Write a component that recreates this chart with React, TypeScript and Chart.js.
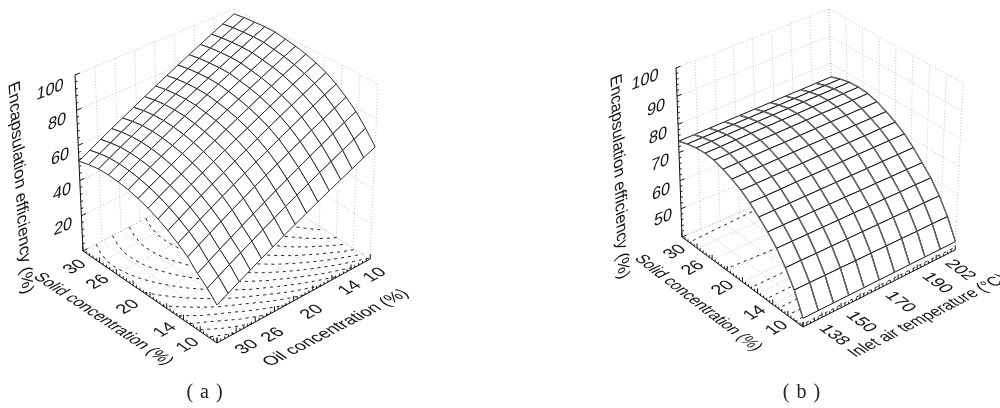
import React, { useEffect, useRef } from "react";
import { Chart, registerables } from "chart.js";

Chart.register(...registerables);

// ---------- data ----------
const encapsulationTitle = "Encapsulation efficiency (%)";
const solidTitle = "Solid concentration (%)";
const oilTitle = "Oil concentration (%)";
const temperatureTitle = "Inlet air temperature (°C)";
const solidTicks = ["30", "26", "20", "14", "10"];
const oilTicks = ["30", "26", "20", "14", "10"];
const temperatureTicks = ["138", "150", "170", "190", "202"];
const efficiencyTicksA = ["100", "80", "60", "40", "20"];
const efficiencyTicksB = ["100", "90", "80", "70", "60", "50"];
const gridZA = [0, 20, 40, 60, 80, 100];
const gridZB = [40, 50, 60, 70, 80, 90, 100];

// rows: solid 30 -> 10, columns: oil 30 -> 10
const surfaceA = [
  [51, 54.3, 57.6, 60.9, 64.1, 67.4, 70.7, 74, 77.3, 80.6, 83.9, 87.1, 90.4, 93.7, 97],
  [52.5, 55.8, 59, 62.3, 65.5, 68.8, 72, 75.3, 78.5, 81.8, 85, 88.3, 91.5, 94.8, 98],
  [53.5, 56.7, 59.9, 63.1, 66.4, 69.6, 72.8, 76, 79.2, 82.4, 85.6, 88.9, 92.1, 95.3, 98.5],
  [53.5, 56.8, 60, 63.3, 66.5, 69.8, 73, 76.3, 79.5, 82.8, 86, 89.3, 92.5, 95.8, 99],
  [53, 56.3, 59.6, 62.9, 66.1, 69.4, 72.7, 76, 79.3, 82.6, 85.9, 89.1, 92.4, 95.7, 99],
  [52, 55.3, 58.6, 61.9, 65.1, 68.4, 71.7, 75, 78.3, 81.6, 84.9, 88.1, 91.4, 94.7, 98],
  [50.5, 53.8, 57.1, 60.5, 63.8, 67.1, 70.4, 73.8, 77.1, 80.4, 83.7, 87, 90.4, 93.7, 97],
  [48.5, 51.9, 55.2, 58.6, 61.9, 65.3, 68.6, 72, 75.4, 78.7, 82.1, 85.4, 88.8, 92.1, 95.5],
  [46, 49.4, 52.8, 56.2, 59.6, 63, 66.4, 69.8, 73.1, 76.5, 79.9, 83.3, 86.7, 90.1, 93.5],
  [43, 46.4, 49.9, 53.3, 56.7, 60.1, 63.6, 67, 70.4, 73.9, 77.3, 80.7, 84.1, 87.6, 91],
  [39.5, 42.9, 46.4, 49.8, 53.2, 56.6, 60.1, 63.5, 66.9, 70.4, 73.8, 77.2, 80.6, 84.1, 87.5],
  [35.5, 38.9, 42.3, 45.7, 49.1, 52.5, 55.9, 59.3, 62.6, 66, 69.4, 72.8, 76.2, 79.6, 83],
  [30, 33.4, 36.9, 40.3, 43.7, 47.1, 50.6, 54, 57.4, 60.9, 64.3, 67.7, 71.1, 74.6, 78],
  [25.5, 28.8, 32.1, 35.4, 38.6, 41.9, 45.2, 48.5, 51.8, 55.1, 58.4, 61.6, 64.9, 68.2, 71.5],
  [20, 23.1, 26.3, 29.4, 32.6, 35.7, 38.9, 42, 45.1, 48.3, 51.4, 54.6, 57.7, 60.9, 64],
];

// rows: solid 30 -> 10, columns: temperature 138 -> 202
const surfaceB = [
  [74, 74.1, 74.2, 74.3, 74.4, 74.5, 74.6, 74.7, 74.8, 74.9, 75],
  [75.2, 75.3, 75.4, 75.5, 75.6, 75.7, 75.8, 75.9, 76, 76.1, 76.2],
  [76, 76.1, 76.2, 76.3, 76.4, 76.5, 76.6, 76.7, 76.8, 76.9, 77],
  [76.3, 76.4, 76.5, 76.6, 76.7, 76.8, 76.8, 76.9, 77, 77.1, 77.2],
  [76, 76.1, 76.2, 76.3, 76.3, 76.4, 76.5, 76.6, 76.6, 76.7, 76.8],
  [75, 75.1, 75.2, 75.3, 75.3, 75.4, 75.5, 75.6, 75.6, 75.7, 75.8],
  [73.7, 73.8, 73.8, 73.9, 73.9, 74, 74, 74, 74.1, 74.1, 74.2],
  [72, 72, 72.1, 72.1, 72.1, 72.2, 72.2, 72.2, 72.2, 72.3, 72.3],
  [69.8, 69.8, 69.8, 69.9, 69.9, 69.9, 69.9, 70, 70, 70, 70],
  [67, 67, 67, 67, 67, 67, 67, 67, 67, 67, 67],
  [64, 64, 63.9, 63.9, 63.8, 63.8, 63.7, 63.7, 63.6, 63.6, 63.5],
  [60.5, 60.5, 60.4, 60.4, 60.3, 60.3, 60.2, 60.2, 60.1, 60.1, 60],
  [56, 56, 55.9, 55.9, 55.8, 55.8, 55.7, 55.7, 55.6, 55.6, 55.5],
  [50.5, 50.5, 50.4, 50.4, 50.3, 50.3, 50.2, 50.2, 50.1, 50.1, 50],
  [43, 43, 43, 43, 43, 43, 43, 43, 43, 43, 43],
];

// ---------- layout ----------
type V2 = [number, number];
type Corner = { b: V2; t: V2 };
type Place = { x: number; y: number };
type Label = { text: string; at: V2; dir: V2; down: V2; size: number; len?: number };

const TICK_SIZE = 17.5;
const TITLE_SIZE = 17.5;
const tickText = (text: string, at: V2, dir: V2, down: V2): Label => ({ text, at, dir, down, size: TICK_SIZE });

const buildLabelsA = (): Label[] => {
  const z: V2[] = [[50, 90], [57, 122], [60, 157], [62, 192], [63, 227]];
  const s: V2[] = [[75, 267], [98, 282], [128, 307], [165, 330], [188, 345]];
  const o: V2[] = [[247, 347], [273, 335], [312, 312], [350, 288], [375, 275]];
  return [
    ...efficiencyTicksA.map((t, i) => tickText(t, z[i], [0.93, -0.37], [-0.1, 1])),
    ...solidTicks.map((t, i) => tickText(t, s[i], [0.87, -0.48], [0.82, 0.57])),
    ...oilTicks.map((t, i) => tickText(t, o[i], [0.87, -0.48], [0.82, 0.57])),
    { text: encapsulationTitle, at: [20, 188], dir: [0.066, 1], down: [-0.92, 0.38], size: TITLE_SIZE, len: 211 },
    { text: solidTitle, at: [103, 319], dir: [0.83, 0.55], down: [-0.87, 0.48], size: TITLE_SIZE, len: 160 },
    { text: oilTitle, at: [336, 328], dir: [0.89, -0.46], down: [0.82, 0.57], size: TITLE_SIZE, len: 157 },
  ];
};

const buildLabelsB = (): Label[] => {
  const z: V2[] = [[645, 80], [656, 108], [658, 136], [660, 163], [661, 192], [663, 218]];
  const s: V2[] = [[675, 252], [693, 268], [723, 288], [755, 313], [777, 328]];
  const t: V2[] = [[834, 335], [861, 322], [900, 302], [937, 283], [960, 270]];
  return [
    ...efficiencyTicksB.map((v, i) => tickText(v, z[i], [0.93, -0.37], [-0.1, 1])),
    ...solidTicks.map((v, i) => tickText(v, s[i], [0.87, -0.48], [0.8, 0.6])),
    ...temperatureTicks.map((v, i) => tickText(v, t[i], [0.8, 0.6], [-0.87, 0.45])),
    { text: encapsulationTitle, at: [619, 177], dir: [0.04, 1], down: [-0.92, 0.38], size: TITLE_SIZE, len: 203 },
    { text: solidTitle, at: [698, 303], dir: [0.79, 0.61], down: [-0.89, 0.45], size: TITLE_SIZE, len: 152 },
    { text: temperatureTitle, at: [928, 316], dir: [0.89, -0.45], down: [0.8, 0.6], size: TITLE_SIZE, len: 172 },
  ];
};

const PANEL_A = {
  offset: 0,
  corners: {
    L: { b: [83, 251], t: [75, 75] },
    B: { b: [235, 172], t: [234, 9] },
    F: { b: [217, 343], t: [217, 153] },
    R: { b: [370, 259], t: [378, 84] },
  } as Record<string, Corner>,
  zMin: 0,
  zMax: 100,
  surface: surfaceA,
  gridZ: gridZA,
  levels: [25, 30, 35, 40, 45, 50, 55, 60, 65, 70, 75, 80, 85, 90, 95],
  zDivs: 25,
  heavyRuns: false,
  labels: buildLabelsA(),
  caption: { text: "( a )", x: 205, y: 393 },
};

const PANEL_B = {
  offset: 500,
  corners: {
    L: { b: [682, 237], t: [676, 68] },
    B: { b: [834, 172], t: [829, 9] },
    F: { b: [803, 327], t: [803, 152] },
    R: { b: [955, 250], t: [963, 83] },
  } as Record<string, Corner>,
  zMin: 40,
  zMax: 100,
  surface: surfaceB,
  gridZ: gridZB,
  levels: [45, 50, 55, 60, 65, 70, 75],
  zDivs: 30,
  heavyRuns: true,
  labels: buildLabelsB(),
  caption: { text: "( b )", x: 802, y: 393 },
};

type Panel = typeof PANEL_A;

const lerp = (a: number, b: number, t: number) => a + (b - a) * t;

function project(p: Panel, u: number, v: number, w: number): Place {
  const { L, B, F, R } = p.corners;
  const at = (k: 0 | 1) => {
    const bottom = lerp(lerp(L.b[k], B.b[k], u), lerp(F.b[k], R.b[k], u), v);
    const top = lerp(lerp(L.t[k], B.t[k], u), lerp(F.t[k], R.t[k], u), v);
    return lerp(bottom, top, w);
  };
  return { x: at(0), y: at(1) };
}

const GAP: Place = { x: NaN, y: NaN };

function segments(p: Panel, list: number[][][]): Place[] {
  const out: Place[] = [];
  list.forEach((s) => {
    s.forEach(([u, v, w]) => out.push(project(p, u, v, w)));
    out.push(GAP);
  });
  return out;
}

function contourSegments(p: Panel, level: number): number[][][] {
  const z = p.surface;
  const segs: number[][][] = [];
  const ni = z.length - 1;
  const nj = z[0].length - 1;
  for (let i = 0; i < ni; i++) {
    for (let j = 0; j < nj; j++) {
      const c: [number, number, number][] = [
        [i, j, z[i][j]],
        [i, j + 1, z[i][j + 1]],
        [i + 1, j + 1, z[i + 1][j + 1]],
        [i + 1, j, z[i + 1][j]],
      ];
      const pts: number[][] = [];
      for (let e = 0; e < 4; e++) {
        const a = c[e];
        const b = c[(e + 1) % 4];
        if (a[2] < level !== b[2] < level) {
          const t = (level - a[2]) / (b[2] - a[2]);
          pts.push([lerp(a[1], b[1], t) / nj, lerp(a[0], b[0], t) / ni, 0]);
        }
      }
      if (pts.length >= 2) segs.push([pts[0], pts[1]]);
      if (pts.length === 4) segs.push([pts[2], pts[3]]);
    }
  }
  return segs;
}

// joins the pieces of a contour end to end, so that its dashes run on unbroken
function chain(segs: number[][][]): number[][][] {
  const same = (a: number[], b: number[]) => Math.abs(a[0] - b[0]) < 1e-6 && Math.abs(a[1] - b[1]) < 1e-6;
  const left = segs.slice();
  const out: number[][][] = [];
  while (left.length) {
    const run = left.shift() as number[][];
    let grown = true;
    while (grown) {
      grown = false;
      for (let k = 0; k < left.length; k++) {
        const s = left[k];
        const tail = run[run.length - 1];
        const head = run[0];
        if (same(tail, s[0])) run.push(s[1]);
        else if (same(tail, s[1])) run.push(s[0]);
        else if (same(head, s[0])) run.unshift(s[1]);
        else if (same(head, s[1])) run.unshift(s[0]);
        else continue;
        left.splice(k, 1);
        grown = true;
        break;
      }
    }
    out.push(run);
  }
  return out;
}

function buildDatasets(p: Panel) {
  const back: any[] = [];
  const span = p.zMax - p.zMin;
  const DIV = [0, 0.125, 0.25, 0.375, 0.5, 0.625, 0.75, 0.875, 1];
  const line = (data: Place[], color: string, width: number, dash: number[] = []) => ({
    data,
    showLine: true,
    pointRadius: 0,
    borderColor: color,
    borderWidth: width,
    borderDash: dash,
    fill: false,
    tension: 0,
    spanGaps: false,
  });

  // walls and floor grid
  const grid: number[][][] = [];
  DIV.forEach((d) => {
    grid.push([[d, 0, 0], [d, 0, 1]]);
    grid.push([[1, d, 0], [1, d, 1]]);
    grid.push([[d, 0, 0], [d, 1, 0]]);
    grid.push([[0, d, 0], [1, d, 0]]);
  });
  p.gridZ.forEach((g) => {
    const w = (g - p.zMin) / span;
    grid.push([[0, 0, w], [1, 0, w], [1, 1, w]]);
  });
  back.push(line(segments(p, grid), "#c4c4c4", 1, [1, 2]));

  // contours on the floor
  p.levels.forEach((lv) => {
    back.push(line(segments(p, chain(contourSegments(p, lv))), "#222222", 1, [3, 4]));
  });

  // axes with their tick marks
  const axes: number[][][] = [
    [[0, 0, 0], [0, 1, 0], [1, 1, 0]],
    [[0, 0, 0], [0, 0, 1]],
  ];
  for (let k = 0; k <= 40; k++) {
    const h = k % 5 === 0 ? 0.028 : 0.013;
    axes.push([[0, k / 40, 0], [0, k / 40, h]]);
    axes.push([[k / 40, 1, 0], [k / 40, 1, h]]);
  }
  for (let k = 0; k <= p.zDivs; k++) {
    const l = k % 5 === 0 ? 0.03 : 0.014;
    axes.push([[0, 0, k / p.zDivs], [l, 0, k / p.zDivs]]);
  }
  back.push(line(segments(p, axes), "#111111", 1));

  // surface cells, far to near
  const z = p.surface;
  const ni = z.length - 1;
  const nj = z[0].length - 1;
  const W = (v: number) => (v - p.zMin) / span;
  for (let i = 0; i < ni; i++) {
    for (let j = nj - 1; j >= 0; j--) {
      const a = project(p, j / nj, i / ni, W(z[i][j]));
      const b = project(p, (j + 1) / nj, i / ni, W(z[i][j + 1]));
      const c = project(p, (j + 1) / nj, (i + 1) / ni, W(z[i + 1][j + 1]));
      const d = project(p, j / nj, (i + 1) / ni, W(z[i + 1][j]));
      back.push({
        ...line([a, b, c, d, a], p.heavyRuns ? "#111111" : "#2c2c2c", 1),
        fill: "shape",
        backgroundColor: "#ffffff",
      });
      if (p.heavyRuns) {
        back.push(line([a, d, GAP, b, c], "#666666", 1.4));
      }
    }
  }
  return back.map((d, idx) => ({ ...d, order: back.length - idx }));
}

function SurfacePanel({ panel }: { panel: Panel }) {
  const ref = useRef<HTMLCanvasElement | null>(null);
  useEffect(() => {
    if (!ref.current) return;
    const textPlugin = {
      id: "surfaceText",
      afterDraw(chart: any) {
        const { ctx } = chart;
        const sx = chart.scales.x;
        const sy = chart.scales.y;
        ctx.save();
        ctx.fillStyle = "#111111";
        ctx.textAlign = "center";
        ctx.textBaseline = "middle";
        panel.labels.forEach((l) => {
          ctx.save();
          ctx.font = `${l.size}px "Liberation Sans", Arial, sans-serif`;
          const scale = l.len ? l.len / ctx.measureText(l.text).width : 1;
          ctx.transform(
            l.dir[0] * scale,
            l.dir[1] * scale,
            l.down[0],
            l.down[1],
            sx.getPixelForValue(l.at[0]),
            sy.getPixelForValue(l.at[1])
          );
          ctx.fillText(l.text, 0, 0);
          ctx.restore();
        });
        ctx.font = `20px "Liberation Serif", "Times New Roman", serif`;
        (ctx as any).letterSpacing = "1px";
        ctx.fillStyle = "#222222";
        ctx.fillText(panel.caption.text, sx.getPixelForValue(panel.caption.x), sy.getPixelForValue(panel.caption.y));
        ctx.restore();
      },
    };
    const chart = new Chart(ref.current, {
      type: "scatter",
      data: { datasets: buildDatasets(panel) as any },
      options: {
        animation: false,
        responsive: false,
        events: [],
        layout: { padding: 0 },
        plugins: { legend: { display: false }, tooltip: { enabled: false }, title: { display: false } },
        scales: {
          x: { type: "linear", display: false, min: panel.offset, max: panel.offset + 500 },
          y: { type: "linear", display: false, min: 0, max: 408, reverse: true },
        },
      },
      plugins: [textPlugin],
    } as any);
    return () => chart.destroy();
  }, [panel]);
  return (
    <canvas
      ref={ref}
      width={500}
      height={408}
      style={{ position: "absolute", left: panel.offset, top: 0, width: 500, height: 408, display: "block" }}
    />
  );
}

export default function App() {
  return (
    <div style={{ position: "absolute", left: 0, top: 0, width: 1000, height: 408, background: "#fff", overflow: "hidden" }}>
      <SurfacePanel panel={PANEL_A} />
      <SurfacePanel panel={PANEL_B as unknown as Panel} />
    </div>
  );
}
